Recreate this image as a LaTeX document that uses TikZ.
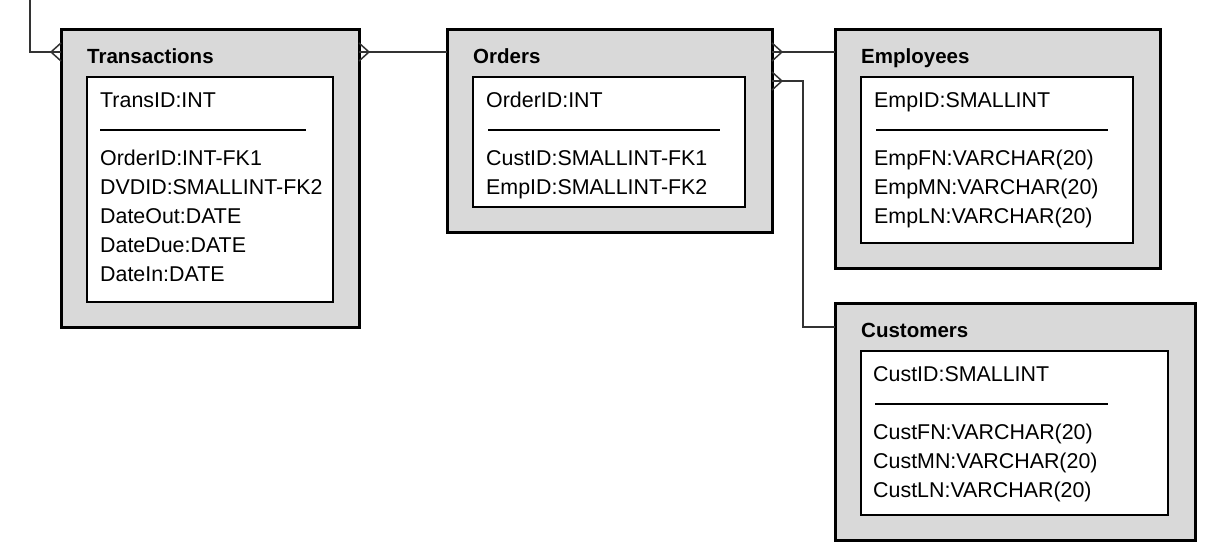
\documentclass[tikz,border=0pt]{standalone}
\usepackage{fontspec}
\setmainfont{Liberation Sans}
\usetikzlibrary{calc}
\definecolor{boxgray}{HTML}{D9D9D9}
\definecolor{linegray}{HTML}{333333}
\begin{document}
\begin{tikzpicture}[x=1pt,y=-1pt,
  outer/.style={draw=black, line width=3pt, fill=boxgray, anchor=north west, inner sep=0pt, outer sep=0pt},
  inner/.style={draw=black, line width=2.5pt, fill=white, anchor=north west, inner sep=0pt, outer sep=0pt},
  ttl/.style={anchor=base west, font=\fontsize{20.5}{24}\selectfont\bfseries, inner sep=0pt},
  row/.style={anchor=base west, font=\fontsize{21.4}{25}\selectfont, inner sep=0pt},
  sepline/.style={draw=black, line width=2pt},
  conn/.style={draw=linegray, line width=1.5pt}]
\useasboundingbox (0,0) rectangle (1210,555);
% outer boxes
\node[outer, minimum width=298pt, minimum height=298pt] (trans) at (61,29) {};
\node[outer, minimum width=325pt, minimum height=203pt] (orders) at (447,29) {};
\node[outer, minimum width=325pt, minimum height=239pt] (emp) at (835,29) {};
\node[outer, minimum width=360pt, minimum height=237pt] (cust) at (835,303) {};
% inner boxes
\node[inner, minimum width=246pt, minimum height=225pt] (tin) at (87,77) {};
\node[inner, minimum width=272pt, minimum height=130pt] (oin) at (473,77) {};
\node[inner, minimum width=272pt, minimum height=166pt] (ein) at (861,77) {};
\node[inner, minimum width=307pt, minimum height=164pt] (cin) at (861,351) {};
% titles
\node[ttl] (tt) at (87,63) {Transactions};
\node[ttl] (ot) at (473,63) {Orders};
\node[ttl] (et) at (861,63) {Employees};
\node[ttl] (ct) at (861,337) {Customers};
% Transactions rows
\node[row] (t1) at (100,107) {TransID:INT};
\node[row] (t2) at (100,165) {OrderID:INT-FK1};
\node[row] (t3) at (100,194) {DVDID:SMALLINT-FK2};
\node[row] (t4) at (100,223) {DateOut:DATE};
\node[row] (t5) at (100,252) {DateDue:DATE};
\node[row] (t6) at (100,281) {DateIn:DATE};
\draw[sepline] (100,130) -- (306,130);
% Orders rows
\node[row] (o1) at (486,107) {OrderID:INT};
\node[row] (o2) at (486,165) {CustID:SMALLINT-FK1};
\node[row] (o3) at (486,194) {EmpID:SMALLINT-FK2};
\draw[sepline] (488,130) -- (720,130);
% Employees rows
\node[row] (e1) at (874,107) {EmpID:SMALLINT};
\node[row] (e2) at (874,165) {EmpFN:VARCHAR(20)};
\node[row] (e3) at (874,194) {EmpMN:VARCHAR(20)};
\node[row] (e4) at (874,223) {EmpLN:VARCHAR(20)};
\draw[sepline] (876,130) -- (1108,130);
% Customers rows
\node[row] (c1) at (873,381) {CustID:SMALLINT};
\node[row] (c2) at (873,439) {CustFN:VARCHAR(20)};
\node[row] (c3) at (873,468) {CustMN:VARCHAR(20)};
\node[row] (c4) at (873,497) {CustLN:VARCHAR(20)};
\draw[sepline] (875,404) -- (1108,404);
% connectors
\coordinate (top) at (30,0);
\coordinate (tL) at ([yshift=-23pt]trans.north west);
\coordinate (tR) at ([yshift=-23pt]trans.north east);
\coordinate (oL) at ([yshift=-23pt]orders.north west);
\coordinate (oR1) at ([yshift=-23pt]orders.north east);
\coordinate (oR2) at ([yshift=-52pt]orders.north east);
\coordinate (eL) at ([yshift=-23pt]emp.north west);
\coordinate (cL) at ([yshift=-24pt]cust.north west);
\draw[conn] (top) |- (tL);
\draw[conn] ([yshift=9pt]tL) -- ([xshift=-10pt]tL) -- ([yshift=-9pt]tL);
\draw[conn] (tR) -- (oL);
\draw[conn] ([yshift=9pt]tR) -- ([xshift=10pt]tR) -- ([yshift=-9pt]tR);
\draw[conn] (oR1) -- (eL);
\draw[conn] ([yshift=9pt]oR1) -- ([xshift=10pt]oR1) -- ([yshift=-9pt]oR1);
\draw[conn] (oR2) -- ([xshift=31pt]oR2) |- (cL);
\draw[conn] ([yshift=9pt]oR2) -- ([xshift=10pt]oR2) -- ([yshift=-9pt]oR2);
\end{tikzpicture}
\end{document}
